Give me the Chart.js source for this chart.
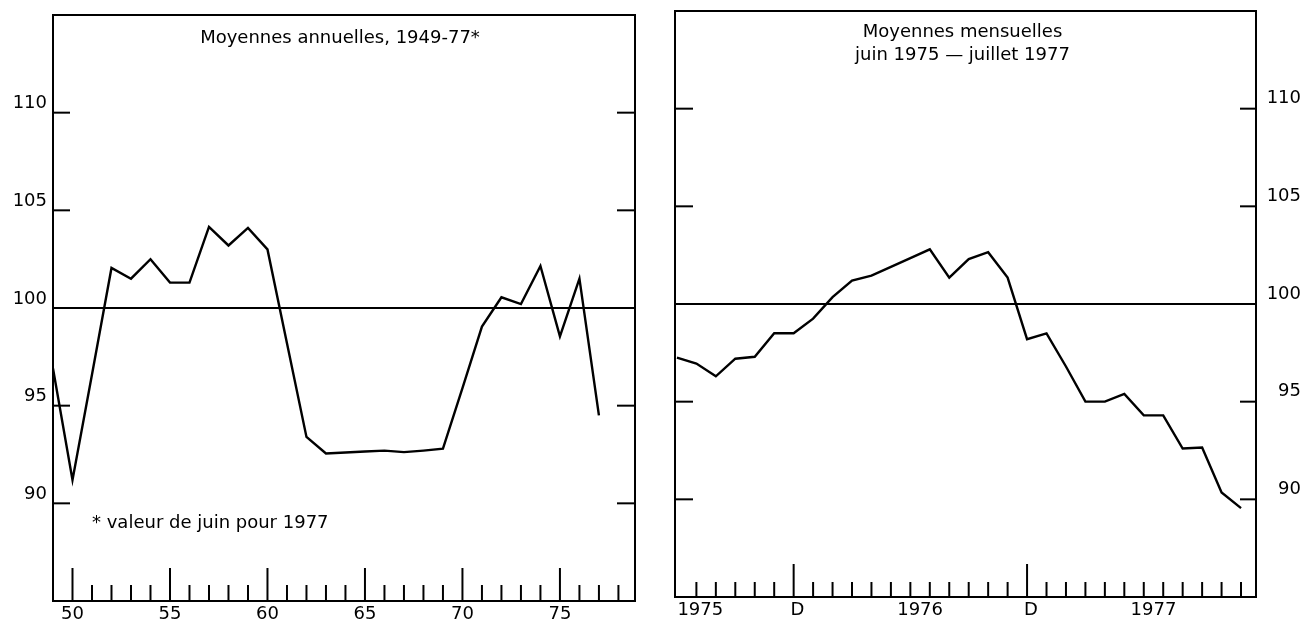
<!DOCTYPE html>
<html>
<head>
<meta charset="utf-8">
<script src="https://cdn.jsdelivr.net/npm/chart.js@4.4.1/dist/chart.umd.min.js"></script>
<style>
  html, body { margin: 0; padding: 0; background: #fff; }
  #wrap { position: relative; width: 1301px; height: 622px; overflow: hidden; }
  #annual { position: absolute; left: 0; top: 0; }
  #monthly { position: absolute; left: 650px; top: 0; }
</style>
</head>
<body>
<div id="wrap">
  <canvas id="annual" width="650" height="622"></canvas>
  <canvas id="monthly" width="651" height="622"></canvas>
</div>
<script>
// ---- Annual averages, 1949-77 (1977 = June value) ----
const annualYears = [49, 50, 51, 52, 53, 54, 55, 56, 57, 58, 59, 60, 61, 62, 63,
                     64, 65, 66, 67, 68, 69, 70, 71, 72, 73, 74, 75, 76, 77];
const annualIndex = [96.9, 91.2, 96.6, 102.05, 101.5, 102.5, 101.3, 101.3, 104.15, 103.2,
                     104.1, 103.0, 98.2, 93.4, 92.55, 92.6, 92.65, 92.7, 92.62, 92.7,
                     92.8, 95.9, 99.05, 100.55, 100.2, 102.15, 98.55, 101.5, 94.5];
const annualTickLabels = [50, 55, 60, 65, 70, 75];
const annualMinorTicks = [51, 52, 53, 54, 56, 57, 58, 59, 61, 62, 63, 64, 66, 67, 68, 69,
                          71, 72, 73, 74, 76, 77, 78];

// ---- Monthly averages from June 1975 (0 = June 1975) ----
const monthIndex = [0, 1, 2, 3, 4, 5, 6, 7, 8, 9, 10, 11, 12, 13, 14,
                    15, 16, 17, 18, 19, 20, 21, 22, 23, 24, 25, 26, 27, 28, 29];
const monthlyIndex = [97.25, 96.95, 96.3, 97.2, 97.3, 98.5, 98.5, 99.25, 100.35, 101.2,
                      101.45, 101.9, 102.35, 102.8, 101.35, 102.3, 102.65, 101.35, 98.2, 98.5,
                      96.8, 95.0, 95.0, 95.4, 94.3, 94.3, 92.6, 92.65, 90.35, 89.55];
const monthTickValues = [1.2, 6.2, 12.5, 18.2, 24.5];
const monthTickLabels = ['1975', 'D', '1976', 'D', '1977'];
const monthMajorTicks = [6, 18];
const monthMinorTicks = [1, 2, 3, 4, 5, 7, 8, 9, 10, 11, 12, 13, 14, 15, 16, 17,
                         19, 20, 21, 22, 23, 24, 25, 26, 27, 28, 29];

// ---- Shared value axis ----
const indexTicks = [90, 95, 100, 105, 110];
const referenceLevel = 100;

const FONT = "'DejaVu Sans', 'Liberation Sans', Arial, sans-serif";
Chart.defaults.font.family = FONT;
Chart.defaults.font.size = 18;
Chart.defaults.color = '#000';

// Frame, reference line, inner tick marks and panel captions
const framePlugin = {
  id: 'frame',
  beforeDatasetsDraw(chart, args, o) {
    const { ctx, chartArea: a, scales: { x, y } } = chart;
    const seg = (x1, y1, x2, y2) => { ctx.beginPath(); ctx.moveTo(x1, y1); ctx.lineTo(x2, y2); ctx.stroke(); };
    ctx.save();
    ctx.strokeStyle = '#000';
    ctx.lineWidth = 2;
    ctx.lineCap = 'butt';
    ctx.strokeRect(a.left, a.top, a.right - a.left, a.bottom - a.top);
    const yr = y.getPixelForValue(o.reference);
    seg(a.left, yr, a.right, yr);
    o.yTicks.forEach(v => {
      const p = y.getPixelForValue(v);
      seg(a.left, p, a.left + o.yTickLeft, p);
      seg(a.right - o.yTickRight, p, a.right, p);
    });
    o.xMinor.forEach(v => {
      const p = x.getPixelForValue(v);
      seg(p, a.bottom, p, a.bottom - o.minorLen);
    });
    o.xMajor.forEach(v => {
      const p = x.getPixelForValue(v);
      seg(p, a.bottom, p, a.bottom - o.majorLen);
    });
    ctx.restore();
  },
  afterDraw(chart, args, o) {
    const ctx = chart.ctx;
    ctx.save();
    ctx.fillStyle = '#000';
    ctx.font = '18px ' + FONT;
    ctx.textBaseline = 'alphabetic';
    o.captions.forEach(c => {
      ctx.textAlign = c.align;
      ctx.fillText(c.text, c.x, c.y);
    });
    ctx.restore();
  }
};

const noPad = s => { s.paddingLeft = 0; s.paddingRight = 0; s.paddingTop = 0; s.paddingBottom = 0; };

function lineDataset(xs, ys) {
  return {
    data: xs.map((v, i) => ({ x: v, y: ys[i] })),
    borderColor: '#000',
    borderWidth: 2.4,
    pointRadius: 0,
    tension: 0,
    fill: false
  };
}

// Left panel: annual averages
new Chart(document.getElementById('annual'), {
  type: 'line',
  data: { datasets: [lineDataset(annualYears, annualIndex)] },
  options: {
    responsive: false,
    animation: false,
    layout: { padding: { left: 0, top: 15, right: 15, bottom: 0 } },
    plugins: {
      legend: { display: false },
      tooltip: { enabled: false },
      frame: {
        reference: referenceLevel,
        yTicks: indexTicks,
        yTickLeft: 17, yTickRight: 18,
        xMinor: annualMinorTicks, xMajor: annualTickLabels,
        minorLen: 16, majorLen: 33,
        captions: [
          { text: 'Moyennes annuelles, 1949-77*', x: 340, y: 43, align: 'center' },
          { text: '* valeur de juin pour 1977', x: 92, y: 528, align: 'left' }
        ]
      }
    },
    scales: {
      x: {
        type: 'linear', min: 49, max: 78.85,
        grid: { display: false, drawTicks: false },
        border: { display: false },
        afterBuildTicks: s => { s.ticks = annualTickLabels.map(v => ({ value: v })); },
        ticks: { padding: 3, maxRotation: 0, autoSkip: false, callback: v => String(v) },
        afterFit: s => { s.height = 21; noPad(s); }
      },
      y: {
        type: 'linear', min: 85, max: 115,
        grid: { display: false, drawTicks: false },
        border: { display: false },
        afterBuildTicks: s => { s.ticks = indexTicks.map(v => ({ value: v })); },
        ticks: { padding: 6, labelOffset: -9, callback: v => String(v) },
        afterFit: s => { s.width = 53; noPad(s); }
      }
    }
  },
  plugins: [framePlugin]
});

// Right panel: monthly averages
new Chart(document.getElementById('monthly'), {
  type: 'line',
  data: { datasets: [lineDataset(monthIndex, monthlyIndex)] },
  options: {
    responsive: false,
    animation: false,
    layout: { padding: { left: 25, top: 11, right: 0, bottom: 0 } },
    plugins: {
      legend: { display: false },
      tooltip: { enabled: false },
      frame: {
        reference: referenceLevel,
        yTicks: indexTicks,
        yTickLeft: 18, yTickRight: 16,
        xMinor: monthMinorTicks, xMajor: monthMajorTicks,
        minorLen: 15, majorLen: 33,
        captions: [
          { text: 'Moyennes mensuelles', x: 312.5, y: 37, align: 'center' },
          { text: 'juin 1975 \u2014 juillet 1977', x: 312.5, y: 60, align: 'center' }
        ]
      }
    },
    scales: {
      x: {
        type: 'linear', min: -0.1, max: 29.77,
        grid: { display: false, drawTicks: false },
        border: { display: false },
        afterBuildTicks: s => { s.ticks = monthTickValues.map(v => ({ value: v })); },
        ticks: { padding: 3, maxRotation: 0, autoSkip: false, callback: (v, i) => monthTickLabels[i] },
        afterFit: s => { s.height = 25; noPad(s); }
      },
      y: {
        type: 'linear', position: 'right', min: 85, max: 115,
        grid: { display: false, drawTicks: false },
        border: { display: false },
        afterBuildTicks: s => { s.ticks = indexTicks.map(v => ({ value: v })); },
        ticks: { padding: 6, labelOffset: -10, crossAlign: 'far', callback: v => String(v) },
        afterFit: s => { s.width = 45; noPad(s); }
      }
    }
  },
  plugins: [framePlugin]
});
</script>
</body>
</html>
